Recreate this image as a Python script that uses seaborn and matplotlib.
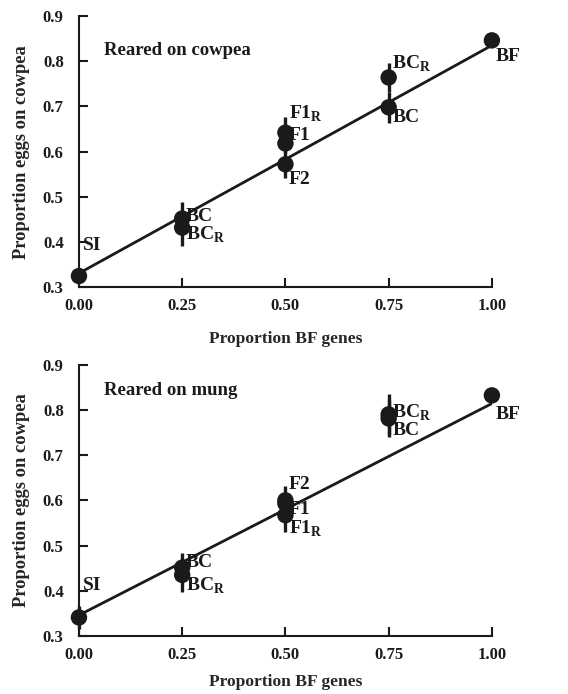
import numpy as np
import pandas as pd
import seaborn as sns
import matplotlib.pyplot as plt

# Daten: Anteil BF-Gene, Anteil Eier auf Cowpea, Fehler (halbe Balkenlaenge)
linien = ["SI", "BC", "BC_R", "F2", "F1", "F1_R", "BC", "BC_R", "BF"]
anteil_bf = [0.00, 0.25, 0.25, 0.50, 0.50, 0.50, 0.75, 0.75, 1.00]

cowpea_y = [0.325, 0.452, 0.432, 0.572, 0.618, 0.642, 0.698, 0.764, 0.846]
cowpea_err = [0.015, 0.037, 0.040, 0.030, 0.020, 0.035, 0.034, 0.033, 0.010]
cowpea_linie = [0.331, 0.835]

mung_y = [0.341, 0.451, 0.435, 0.600, 0.593, 0.567, 0.781, 0.790, 0.832]
mung_err = [0.025, 0.032, 0.037, 0.032, 0.020, 0.037, 0.040, 0.045, 0.010]
mung_linie = [0.346, 0.814]

linie_x = [0.0, 1.0]

# Beschriftungshoehe der Punkt-Labels (Layout)
cowpea_lab = [0.393, 0.456, 0.416, 0.539, 0.636, 0.684, 0.676, 0.795, 0.811]
mung_lab = [0.411, 0.462, 0.411, 0.636, 0.580, 0.536, 0.755, 0.793, 0.790]

sns.set_style("ticks")
plt.rcParams["font.family"] = ["Liberation Serif", "DejaVu Serif"]
plt.rcParams["font.weight"] = "bold"
plt.rcParams["mathtext.fontset"] = "custom"
plt.rcParams["mathtext.rm"] = "Liberation Serif:bold"
plt.rcParams["mathtext.bf"] = "Liberation Serif:bold"


def label_text(name):
    if name.endswith("_R"):
        return name[:-2] + r"$_\mathrm{R}$"
    return name


fig = plt.figure(figsize=(5.68, 6.94), dpi=100)
ax1 = fig.add_axes([0.139, 0.586, 0.727, 0.391])
ax2 = fig.add_axes([0.139, 0.0836, 0.727, 0.391])

panels = [
    (ax1, cowpea_y, cowpea_err, cowpea_linie, cowpea_lab, "Reared on cowpea", 0.824, 12),
    (ax2, mung_y, mung_err, mung_linie, mung_lab, "Reared on mung", 0.843, 8),
]

for ax, yy, err, lin, lab, titel, titel_y, xpad in panels:
    df = pd.DataFrame({"x": anteil_bf, "y": yy, "err": err, "linie": linien})
    sns.lineplot(x=linie_x, y=lin, ax=ax, color="#1a1a1a", lw=2.0, zorder=2)
    ax.errorbar(df["x"], df["y"], yerr=df["err"], fmt="none",
                ecolor="#1a1a1a", elinewidth=2.4, capsize=0, zorder=3, clip_on=False)
    sns.scatterplot(data=df, x="x", y="y", ax=ax, color="#1a1a1a", s=140,
                    edgecolor="none", zorder=4, clip_on=False)

    for xi, name, ly in zip(anteil_bf, linien, lab):
        ax.text(xi + 0.009, ly, label_text(name), fontsize=14, fontweight="bold",
                va="center", ha="left", color="#1a1a1a")

    ax.text(0.061, titel_y, titel, fontsize=13.5, fontweight="bold",
            va="center", ha="left", color="#1a1a1a")

    ax.set_xlim(0, 1)
    ax.set_ylim(0.3, 0.9)
    ax.set_xticks([0, 0.25, 0.5, 0.75, 1.0])
    ax.set_xticklabels(["0.00", "0.25", "0.50", "0.75", "1.00"])
    ax.set_yticks([0.3, 0.4, 0.5, 0.6, 0.7, 0.8, 0.9])
    ax.set_yticklabels(["0.3", "0.4", "0.5", "0.6", "0.7", "0.8", "0.9"])
    ax.tick_params(direction="in", length=6.5, width=1.5, labelsize=12,
                   colors="#1a1a1a")
    ax.tick_params(axis="y", pad=11)
    ax.tick_params(axis="x", pad=8)
    for t in ax.get_xticklabels() + ax.get_yticklabels():
        t.set_fontweight("bold")

    sns.despine(ax=ax)
    ax.spines["left"].set_linewidth(1.5)
    ax.spines["bottom"].set_linewidth(1.5)
    ax.spines["left"].set_color("#1a1a1a")
    ax.spines["bottom"].set_color("#1a1a1a")

    ax.set_xlabel("Proportion BF genes", fontsize=12.6, fontweight="bold", labelpad=xpad)
    ax.set_ylabel("Proportion eggs on cowpea", fontsize=13.3, fontweight="bold", labelpad=9)

plt.savefig("out.png", dpi=100)
